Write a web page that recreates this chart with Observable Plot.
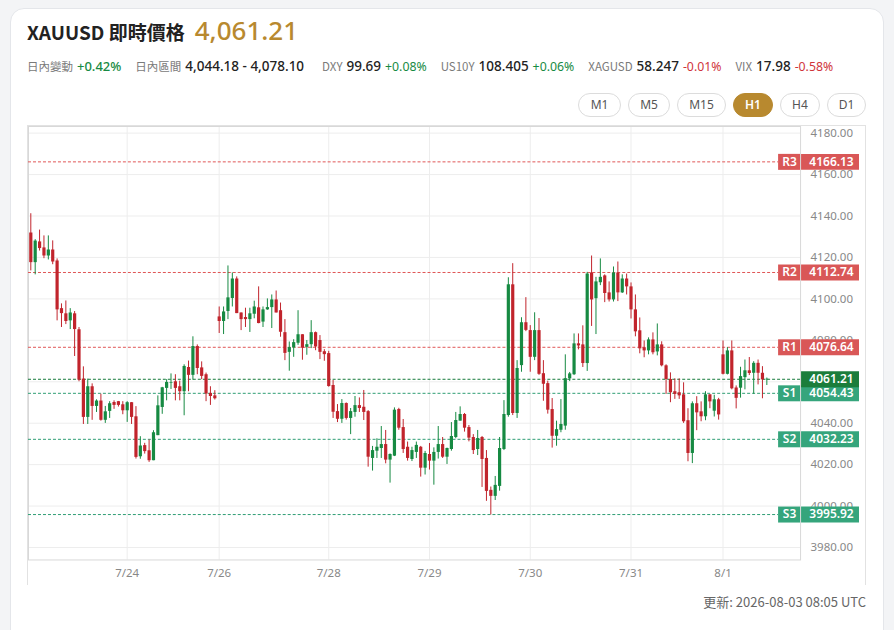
<!DOCTYPE html>
<html><head><meta charset="utf-8">
<script src="https://cdn.jsdelivr.net/npm/d3@7"></script>
<script src="https://cdn.jsdelivr.net/npm/@observablehq/plot@0.6"></script>
<style>
body{margin:0;background:#f3f4f6;font-family:"Noto Sans","Noto Sans CJK TC",sans-serif;width:894px;height:630px;overflow:hidden;position:relative}
.card{position:absolute;left:10px;top:8px;width:874px;height:650px;background:#fff;border:1px solid #e4e6ea;border-radius:14px;box-sizing:border-box}
#hdr{position:absolute;left:27px;top:12px;display:flex;align-items:baseline;white-space:nowrap}
#hdr .t{font-size:19px;font-weight:600;color:#222;font-family:"Noto Sans CJK TC","Noto Sans",sans-serif}
#hdr .p{font-size:26px;color:#b8892f;margin-left:10px;font-weight:500}
#row2{position:absolute;left:27px;top:57px;display:flex;align-items:baseline;white-space:nowrap;font-size:12px}
#row2 .g{margin-right:14px;display:flex;align-items:baseline}
#row2 .l{color:#7a7a7a;font-size:11.5px;margin-right:4px;font-family:"Noto Sans CJK TC","Noto Sans",sans-serif}
#row2 .v{color:#222;font-size:13.5px;font-weight:500;margin-right:4px}
#row2 .up{color:#178a43;font-size:12.3px}
#row2 .dn{color:#d0343a;font-size:12.3px}
#btns{position:absolute;right:28px;top:93px;display:flex;gap:7px}
#btns div{height:24px;box-sizing:border-box;border:1px solid #dcdcdc;border-radius:12px;font-size:12px;color:#555;line-height:22px;background:#fff;text-align:center}
#btns div.on{background:#b8892f;border-color:#b8892f;color:#fff;font-weight:600}
#chart{position:absolute;left:27px;top:125px;width:839px;height:460px;border-top:1px solid #e2e2e2;border-left:1px solid #e2e2e2;border-right:1px solid #e2e2e2;box-sizing:border-box}
#chart svg{position:absolute;left:0;top:0;overflow:visible}
#foot{position:absolute;right:28px;top:593px;font-size:13px;color:#666;line-height:18px;font-family:"Noto Sans CJK TC","Noto Sans",sans-serif}
</style></head>
<body>
<div class="card"></div>
<div id="hdr"><span class="t">XAUUSD 即時價格</span><span class="p">4,061.21</span></div>
<div id="row2">
 <div class="g"><span class="l">日內變動</span><span class="up" style="font-size:13px;font-weight:500">+0.42%</span></div>
 <div class="g"><span class="l">日內區間</span><span class="v">4,044.18 - 4,078.10</span></div>
 <div class="g"><span class="l">DXY</span><span class="v">99.69</span><span class="up">+0.08%</span></div>
 <div class="g"><span class="l">US10Y</span><span class="v">108.405</span><span class="up">+0.06%</span></div>
 <div class="g"><span class="l">XAGUSD</span><span class="v">58.247</span><span class="dn">-0.01%</span></div>
 <div class="g"><span class="l">VIX</span><span class="v">17.98</span><span class="dn">-0.58%</span></div>
</div>
<div id="btns"><div style="width:43px">M1</div><div style="width:42px">M5</div><div style="width:49px">M15</div><div class="on" style="width:40px">H1</div><div style="width:40px">H4</div><div style="width:39px">D1</div></div>
<div id="chart"></div>
<div id="foot">更新: 2026-08-03 08:05 UTC</div>
<script>
const opens = [4131.8,4117.5,4127.5,4124.6,4120.7,4123.6,4118.3,4095.3,4092.8,4089.4,4092.8,4085.1,4061.3,4042.8,4057.6,4048.1,4050.7,4041.4,4045.7,4050.0,
4050.4,4048.9,4046.0,4049.9,4043.1,4023.8,4029.2,4026.7,4021.9,4034.0,4047.6,4056.8,4059.2,4060.0,4057.6,4055.2,4066.9,4063.1,4077.0,4066.7,
4063.4,4054.4,4053.2,4091.3,4089.1,4093.9,4100.2,4109.6,4093.2,4091.0,4090.0,4092.6,4095.7,4088.8,4094.7,4095.8,4099.5,4094.3,4083.7,4074.2,
4076.3,4078.6,4082.7,4076.6,4077.9,4083.7,4079.9,4074.5,4073.6,4058.2,4045.6,4041.9,4049.5,4042.3,4045.2,4048.5,4047.7,4045.6,4023.0,4026.5,
4027.8,4029.7,4022.2,4024.1,4046.6,4037.9,4028.4,4022.5,4025.9,4028.4,4018.3,4024.9,4021.7,4025.9,4029.7,4023.6,4027.3,4033.1,4041.0,4044.2,
4037.9,4033.1,4027.3,4033.1,4023.0,4007.6,4004.7,4009.5,4027.3,4043.7,4106.8,4044.7,4067.8,4088.5,4084.7,4071.8,4084.7,4063.9,4059.1,4046.6,
4033.7,4036.6,4038.6,4061.4,4063.4,4078.3,4077.8,4068.8,4112.5,4100.1,4107.8,4111.1,4102.9,4099.5,4112.5,4102.9,4109.6,4105.8,4094.7,4084.6,
4076.4,4074.9,4080.2,4074.4,4077.8,4067.7,4061.1,4055.2,4054.7,4053.7,4041.2,4025.4,4049.4,4045.5,4043.1,4053.7,4045.8,4051.3,4073.0,4063.6,
4074.9,4057.0,4056.9,4062.0,4065.3,4064.1,4068.9,4064.1,4060.9];
const highs = [4141.1,4128.6,4133.2,4130.4,4130.4,4128.0,4119.3,4097.6,4099.0,4095.3,4093.9,4086.2,4067.2,4061.3,4059.0,4051.3,4054.0,4048.1,4050.4,4050.8,
4050.5,4050.4,4050.4,4050.0,4048.0,4033.5,4030.3,4031.9,4036.4,4053.2,4057.3,4061.0,4063.8,4063.4,4060.3,4068.2,4070.0,4081.7,4077.8,4069.6,
4064.2,4057.6,4055.7,4096.1,4096.1,4115.9,4112.5,4110.6,4093.2,4095.5,4095.5,4098.9,4105.8,4096.1,4100.0,4101.9,4103.8,4098.0,4090.0,4079.2,
4080.3,4094.3,4082.7,4079.9,4089.5,4084.0,4082.3,4075.5,4074.7,4060.6,4049.0,4051.4,4049.8,4047.1,4052.9,4052.2,4055.8,4046.1,4028.8,4032.5,
4038.4,4036.5,4025.2,4047.4,4047.2,4041.8,4030.9,4028.4,4030.9,4028.8,4026.4,4030.2,4028.1,4038.4,4033.1,4028.0,4040.3,4045.2,4047.9,4044.7,
4038.9,4034.5,4036.5,4033.6,4026.8,4009.2,4014.3,4033.1,4050.9,4110.2,4117.0,4070.2,4090.9,4100.6,4087.1,4093.3,4090.5,4070.2,4060.3,4051.9,
4041.0,4051.4,4073.0,4064.5,4083.1,4083.1,4087.0,4112.8,4120.7,4110.4,4119.3,4111.6,4108.2,4115.4,4117.8,4111.6,4112.0,4107.7,4101.9,4090.8,
4079.7,4081.2,4083.6,4087.9,4079.3,4068.2,4064.3,4061.4,4061.4,4059.5,4047.0,4050.3,4052.8,4050.3,4055.2,4053.7,4053.5,4052.0,4079.7,4076.5,
4079.7,4058.0,4067.0,4070.5,4071.7,4069.7,4070.5,4067.3,4061.8];
const lows = [4113.5,4111.6,4123.1,4119.4,4118.8,4116.5,4089.4,4086.2,4087.6,4085.2,4072.2,4060.0,4039.4,4039.4,4041.4,4045.2,4041.0,4039.9,4042.3,4046.7,
4047.8,4044.1,4040.4,4039.4,4022.7,4022.6,4025.1,4021.1,4021.9,4034.0,4044.3,4050.8,4056.3,4050.8,4050.8,4043.6,4055.2,4060.8,4063.4,4061.0,
4050.4,4048.6,4051.2,4083.3,4082.8,4090.0,4096.1,4092.9,4084.7,4086.2,4083.8,4090.4,4088.0,4086.2,4094.5,4085.7,4093.2,4081.5,4070.2,4065.1,
4071.8,4077.6,4070.4,4072.8,4076.0,4075.0,4070.7,4069.9,4057.4,4042.3,4040.3,4039.9,4041.5,4034.5,4042.9,4045.2,4041.3,4018.8,4016.9,4023.0,
4023.0,4020.4,4011.1,4023.9,4036.6,4025.4,4021.7,4021.5,4023.0,4014.0,4015.0,4017.4,4010.1,4022.7,4023.0,4020.1,4026.5,4032.5,4041.0,4035.7,
4031.0,4024.9,4024.4,4009.0,4002.3,3995.7,4002.7,4007.2,4026.8,4042.9,4043.7,4042.3,4064.6,4084.2,4064.6,4070.2,4063.1,4050.6,4044.4,4028.0,
4028.9,4035.4,4036.6,4060.1,4063.0,4075.4,4066.9,4065.0,4086.7,4082.8,4106.4,4098.2,4098.5,4098.5,4098.7,4102.6,4101.9,4090.3,4081.7,4073.5,
4071.6,4073.0,4073.0,4072.5,4067.2,4053.9,4049.9,4051.5,4051.5,4039.9,4021.4,4020.5,4036.4,4040.7,4041.2,4047.0,4043.0,4041.5,4063.3,4063.3,
4056.1,4046.9,4052.1,4056.1,4063.0,4054.0,4058.5,4051.8,4058.2];
const closes = [4117.5,4127.9,4124.3,4120.7,4123.6,4117.8,4094.7,4092.9,4089.1,4093.2,4085.2,4060.8,4042.8,4057.6,4048.1,4050.7,4041.4,4045.5,4049.4,4048.6,
4048.6,4046.0,4049.9,4042.8,4023.5,4029.0,4026.3,4021.9,4035.4,4048.4,4057.1,4059.7,4059.5,4056.8,4055.2,4067.4,4063.1,4077.0,4066.4,4062.6,
4054.1,4052.9,4051.8,4089.1,4093.7,4100.5,4109.6,4092.9,4090.0,4090.0,4092.8,4096.1,4088.1,4094.7,4095.8,4099.5,4093.2,4083.9,4073.7,4076.5,
4078.9,4082.7,4076.2,4077.9,4083.7,4076.8,4074.2,4073.1,4057.7,4045.3,4041.9,4049.5,4042.3,4045.6,4048.5,4047.1,4045.2,4023.6,4026.8,4028.4,
4029.7,4022.2,4024.9,4046.3,4037.6,4027.3,4023.0,4026.8,4029.3,4018.3,4025.4,4021.7,4025.9,4029.7,4023.6,4027.8,4033.6,4041.3,4044.2,4037.6,
4032.8,4026.8,4032.6,4022.5,4007.1,4004.7,4010.0,4027.8,4044.2,4106.8,4044.7,4066.4,4088.5,4084.8,4071.8,4084.7,4063.6,4058.8,4046.3,4033.7,
4036.9,4039.4,4061.5,4063.8,4078.3,4077.3,4068.8,4112.0,4099.5,4108.2,4110.4,4102.6,4099.5,4112.5,4102.9,4109.6,4105.8,4094.7,4084.1,4075.9,
4074.9,4080.2,4074.0,4077.8,4067.7,4061.1,4054.7,4053.9,4053.2,4040.7,4025.4,4049.4,4045.0,4043.1,4053.7,4050.3,4051.3,4044.0,4063.6,4074.9,
4056.6,4052.0,4062.5,4065.3,4064.0,4068.9,4064.1,4060.9,4061.21];

const tickIdx = [23, 44, 69, 92, 115, 138, 159];
const tickLabels = ["7/24", "7/26", "7/28", "7/29", "7/30", "7/31", "8/1"];
const priceTicks = [3980, 4000, 4020, 4040, 4060, 4080, 4100, 4120, 4140, 4160, 4180];
const resNames = ["R3", "R2", "R1"];
const resValues = [4166.13, 4112.74, 4076.64];
const supNames = ["S1", "S2", "S3"];
const supValues = [4054.43, 4032.23, 3995.92];
const lastPrice = [4061.21];

const UP = "#168a42", DN = "#c1242c";
const candles = opens.map((o, k) => ({i: k + 1, o, h: highs[k], l: lows[k], c: closes[k]}));
const up = candles.filter(d => d.c >= d.o);
const dn = candles.filter(d => d.c < d.o);
const res = resNames.map((n, k) => ({n, v: resValues[k]}));
const sup = supNames.map((n, k) => ({n, v: supValues[k]}));
const cur = lastPrice.map(v => ({v}));

const tagFont = {fontSize: 12, fontWeight: 600, fill: "white", textAnchor: "middle"};
const chart = Plot.plot({
  width: 838, height: 459,
  marginLeft: 0, marginRight: 65, marginTop: 0, marginBottom: 25,
  style: {fontFamily: "'Noto Sans', sans-serif", fontSize: "11.5px", color: "#888", background: "transparent", overflow: "visible"},
  x: {domain: [0.476, 176.7], ticks: tickIdx, tickFormat: d => tickLabels[tickIdx.indexOf(d)], tickSize: 0, tickPadding: 9, label: null},
  y: {domain: [3974, 4183.2], axis: "right", ticks: priceTicks, tickFormat: d => d.toFixed(2), tickSize: 0, tickPadding: 10, label: null},
  marks: [
    Plot.ruleY(priceTicks, {stroke: "#ededed"}),
    Plot.ruleX(tickIdx, {stroke: "#ededed"}),
    Plot.frame({stroke: "#d8d8d8"}),
    Plot.ruleY(res, {y: "v", stroke: "#e05656", strokeDasharray: "3,2", insetRight: 22}),
    Plot.ruleY(sup, {y: "v", stroke: "#2f9e74", strokeDasharray: "3,2", insetRight: 22}),
    Plot.ruleY(cur, {y: "v", stroke: "#157a3a", strokeDasharray: "3,2"}),
    Plot.ruleX(up, {x: "i", y1: "l", y2: "h", stroke: UP, strokeWidth: 1}),
    Plot.ruleX(dn, {x: "i", y1: "l", y2: "h", stroke: DN, strokeWidth: 1}),
    Plot.ruleX(up, {x: "i", y1: "o", y2: "c", stroke: UP, strokeWidth: 3.2}),
    Plot.ruleX(dn, {x: "i", y1: "o", y2: "c", stroke: DN, strokeWidth: 3.2}),
    Plot.tickY(res, {y: "v", stroke: "#d95757", strokeWidth: 16, insetLeft: 751, insetRight: 0}),
    Plot.tickY(res, {y: "v", stroke: "#d95757", strokeWidth: 16, insetLeft: 774, insetRight: -59}),
    Plot.tickY(sup, {y: "v", stroke: "#35a57c", strokeWidth: 16, insetLeft: 751, insetRight: 0}),
    Plot.tickY(sup, {y: "v", stroke: "#35a57c", strokeWidth: 16, insetLeft: 774, insetRight: -59}),
    Plot.tickY(cur, {y: "v", stroke: "#1b7d3b", strokeWidth: 16, insetLeft: 774, insetRight: -59}),
    Plot.text(res, {y: "v", text: "n", frameAnchor: "right", dx: -11, ...tagFont}),
    Plot.text(res, {y: "v", text: d => d.v.toFixed(2), frameAnchor: "right", dx: 31, ...tagFont}),
    Plot.text(sup, {y: "v", text: "n", frameAnchor: "right", dx: -11, ...tagFont}),
    Plot.text(sup, {y: "v", text: d => d.v.toFixed(2), frameAnchor: "right", dx: 31, ...tagFont}),
    Plot.text(cur, {y: "v", text: d => d.v.toFixed(2), frameAnchor: "right", dx: 31, ...tagFont})
  ]
});
document.getElementById("chart").appendChild(chart);
</script>
</body></html>
